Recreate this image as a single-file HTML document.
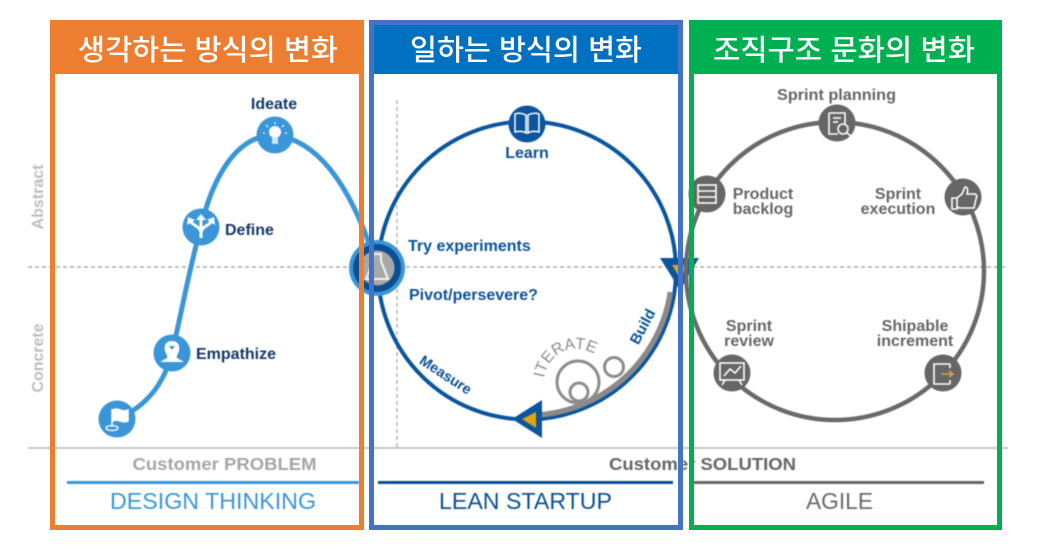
<!DOCTYPE html>
<html><head><meta charset="utf-8"><style>
html,body{margin:0;padding:0;background:#fff;width:1044px;height:553px;overflow:hidden}
svg{display:block}
text{font-family:"Liberation Sans",sans-serif}
.k{font-family:"Liberation Sans","Noto Sans CJK KR",sans-serif;font-size:29px;font-weight:500;fill:#fff}
.b{font-weight:bold;font-size:16px}
.g{fill:#666;text-anchor:middle}
</style></head><body>
<svg width="1044" height="553" viewBox="0 0 1044 553" xmlns="http://www.w3.org/2000/svg">
<g style="filter:blur(.45px)">
<!-- axes -->
<line x1="28" y1="267" x2="1008" y2="267" stroke="#999" stroke-width="1.3" stroke-dasharray="4 3"/>
<line x1="397" y1="100" x2="397" y2="447" stroke="#aaa" stroke-width="1.3" stroke-dasharray="4 3"/>
<line x1="28" y1="448" x2="1008" y2="448" stroke="#b5b5b5" stroke-width="1.5"/>
<text transform="translate(43,197) rotate(-90)" text-anchor="middle" font-size="15.5" font-weight="bold" fill="#bdbdbd" textLength="65" lengthAdjust="spacingAndGlyphs">Abstract</text>
<text transform="translate(43,358) rotate(-90)" text-anchor="middle" font-size="15.5" font-weight="bold" fill="#bdbdbd" textLength="69" lengthAdjust="spacingAndGlyphs">Concrete</text>

<!-- design thinking curve -->
<path d="M117 419 C150 405 165 380 172 353 C180 320 190 265 201 227 C212 180 235 135 275 135 C315 140 350 180 377 267" fill="none" stroke="#3a96d8" stroke-width="5"/>
<circle cx="117" cy="419" r="18.5" fill="#3a96d8"/>
<circle cx="172" cy="353" r="18.5" fill="#3a96d8"/>
<circle cx="201" cy="227" r="18.5" fill="#3a96d8"/>
<circle cx="275" cy="135" r="18.5" fill="#3a96d8"/>
<!-- flag -->
<path d="M112 427 V409 M113 410 C118 407 122 413 128 410 V421 C122 424 118 418 113 421Z" stroke="#fff" stroke-width="1.5" fill="#fff"/>
<ellipse cx="112" cy="428" rx="6" ry="2.5" fill="none" stroke="#fff" stroke-width="1.3"/>
<!-- head -->
<path d="M172 341 c7 0 8 6 7 10 c-1 3 -3 5 -2 7 l7 4 h-24 l7 -4 c1 -2 -1 -4 -2 -7 c-1 -4 0 -10 7 -10z" fill="#fff"/>
<path d="M169 346 h6 l-3 4z" fill="#3a96d8"/>
<!-- split arrows -->
<path d="M201 238 V220 M201 232 C199 226 194 226 191 222 M201 232 C203 226 208 226 211 222" fill="none" stroke="#fff" stroke-width="3"/>
<path d="M196 220 L201 214 L206 220Z M187 225 L188 217 L195 220Z M215 225 L214 217 L207 220Z" fill="#fff"/>
<!-- bulb -->
<circle cx="275" cy="132" r="6" fill="#fff"/><rect x="272" y="137" width="6" height="7" fill="#cfe6f7"/>
<g stroke="#fff" stroke-width="1.2"><line x1="275" y1="122" x2="275" y2="124"/><line x1="266" y1="125" x2="268" y2="127"/><line x1="284" y1="125" x2="282" y2="127"/><line x1="263" y1="133" x2="265" y2="133"/><line x1="287" y1="133" x2="285" y2="133"/></g>
<text x="274" y="109" text-anchor="middle" class="b" fill="#14386b">Ideate</text>
<text x="225" y="235" class="b" fill="#14386b">Define</text>
<text x="196" y="359" class="b" fill="#14386b">Empathize</text>

<!-- lean circle -->
<circle cx="527" cy="270.5" r="149" fill="none" stroke="#0b559f" stroke-width="4"/>
<path d="M670.4 292 A145 145 0 0 1 540 414.9" fill="none" stroke="#8a8a8a" stroke-width="5.5"/>
<circle cx="527" cy="124" r="18.5" fill="#0b559f"/>
<path d="M526 115 C522 113 518 113 515 114 V132 C519 131 523 131 526 133Z M528 115 C532 113 536 113 539 114 V132 C535 131 531 131 528 133Z" fill="none" stroke="#fff" stroke-width="1.5"/>
<text x="527" y="158" text-anchor="middle" class="b" fill="#0f4f8f">Learn</text>
<text x="408" y="251" class="b" fill="#0b5299">Try experiments</text>
<text x="409" y="300" class="b" fill="#0b5299">Pivot/persevere?</text>
<text transform="translate(443,379) rotate(33)" text-anchor="middle" font-size="14.5" font-weight="bold" fill="#0b5299">Measure</text>
<text transform="translate(647,329) rotate(-62)" text-anchor="middle" font-size="15" font-weight="bold" fill="#0b5299">Build</text>
<path id="it" d="M544 378 C548 350 580 338 604 361" fill="none"/>
<text font-size="16" fill="#8c8c8c"><textPath href="#it">ITERATE</textPath></text>
<g fill="none" stroke="#8c8c8c" stroke-width="3">
<circle cx="578" cy="382" r="21"/><circle cx="579" cy="392" r="9"/><circle cx="614" cy="367" r="9.5"/>
</g>
<path d="M660 258 H699 L680 290Z" fill="#0b559f"/>
<path d="M672 265 H688 L680 278Z" fill="#e0a40f"/>
<path d="M512 419 L542 400 V438Z" fill="#0b559f"/>
<path d="M522 419 L536 412 V428Z" fill="#e0a40f"/>
<!-- hub -->
<circle cx="377" cy="268" r="28" fill="#3a96d8"/>
<circle cx="377" cy="268" r="24" fill="#0b4f92"/>
<circle cx="377" cy="268" r="17.5" fill="#a8a8a8"/>
<path d="M373 254 h8 v7 l7 18 h-22 l7 -18z" fill="none" stroke="#f2f2f2" stroke-width="2"/>

<!-- agile circle -->
<circle cx="835" cy="271" r="149" fill="none" stroke="#6a6a6a" stroke-width="4.5"/>
<g fill="#666">
<circle cx="837" cy="123" r="18.5"/><circle cx="707" cy="194" r="18.5"/><circle cx="963" cy="197" r="18.5"/><circle cx="732" cy="373" r="18.5"/><circle cx="943" cy="373" r="18.5"/>
</g>
<g fill="none" stroke="#fff" stroke-width="1.6">
<path d="M829 113 H845 V124 M829 113 V134 H838"/><circle cx="843" cy="129" r="5"/><line x1="847" y1="133" x2="852" y2="137"/>
<line x1="833" y1="118" x2="841" y2="118"/><line x1="833" y1="122" x2="838" y2="122"/>
<rect x="698" y="185" width="18" height="18"/><line x1="698" y1="191" x2="716" y2="191"/><line x1="698" y1="197" x2="716" y2="197"/>
<path d="M952 198 h5 v11 h-5z M957 198 l5 -4 l3 -7 c3 0 3 3 2 7 h8 c2 1 2 3 1 5 l-2 9 h-14 l-3 -1"/>
<rect x="720" y="363" width="24" height="17"/><path d="M724 376 L730 369 L735 373 L741 366"/><path d="M725 380 l-3 5 M739 380 l3 5"/>
<path d="M950 364 H934 V384 H950 M950 364 V368 M950 380 V384"/>
</g>
<path d="M941 374 H952 M949 371 L953 374 L949 377" fill="none" stroke="#e0a040" stroke-width="1.5"/>
<text x="836.5" y="100" class="b g" textLength="119" lengthAdjust="spacingAndGlyphs">Sprint planning</text>
<text x="763" y="199" class="b g">Product</text><text x="763" y="214" class="b g">backlog</text>
<text x="898" y="199" class="b g">Sprint</text><text x="898" y="214" class="b g">execution</text>
<text x="749" y="331" class="b g">Sprint</text><text x="749" y="346" class="b g">review</text>
<text x="915" y="331" class="b g">Shipable</text><text x="915" y="346" class="b g">increment</text>

<!-- bottom -->
<text x="224.5" y="470" text-anchor="middle" font-size="17.5" font-weight="bold" fill="#a6a6a6" textLength="184" lengthAdjust="spacingAndGlyphs">Customer PROBLEM</text>
<text x="702.5" y="470" text-anchor="middle" font-size="17.5" font-weight="bold" fill="#666" textLength="187" lengthAdjust="spacingAndGlyphs">Customer SOLUTION</text>
<rect x="67" y="481" width="292" height="3" fill="#3a96d8"/>
<rect x="378" y="481" width="295" height="3" fill="#0b4f92"/>
<rect x="692" y="481" width="292" height="3" fill="#666"/>
<text x="213" y="509" text-anchor="middle" font-size="23" fill="#3a96d8" textLength="206" lengthAdjust="spacingAndGlyphs">DESIGN THINKING</text>
<text x="525.5" y="509" text-anchor="middle" font-size="23" fill="#0b4f92" textLength="173" lengthAdjust="spacingAndGlyphs">LEAN STARTUP</text>
<text x="839.5" y="509" text-anchor="middle" font-size="23" fill="#6a6a6a" textLength="67" lengthAdjust="spacingAndGlyphs">AGILE</text>
</g>

<!-- frames -->
<rect x="52.5" y="22.5" width="309" height="505" fill="none" stroke="#ed7d31" stroke-width="5"/>
<rect x="50" y="20" width="314" height="54" fill="#ed7d31"/>
<rect x="371.5" y="22.5" width="309" height="505" fill="none" stroke="#4472c4" stroke-width="5"/>
<rect x="374" y="25" width="304" height="49" fill="#0070c0"/>
<rect x="691.5" y="22.5" width="308" height="505" fill="none" stroke="#00b050" stroke-width="5"/>
<rect x="689" y="20" width="313" height="54" fill="#00b050"/>
<text class="k" x="78" y="60" textLength="260" lengthAdjust="spacingAndGlyphs">생각하는 방식의 변화</text>
<text class="k" x="410" y="60" textLength="232" lengthAdjust="spacingAndGlyphs">일하는 방식의 변화</text>
<text class="k" x="713" y="60" textLength="262" lengthAdjust="spacingAndGlyphs">조직구조 문화의 변화</text>
</svg>
</body></html>
